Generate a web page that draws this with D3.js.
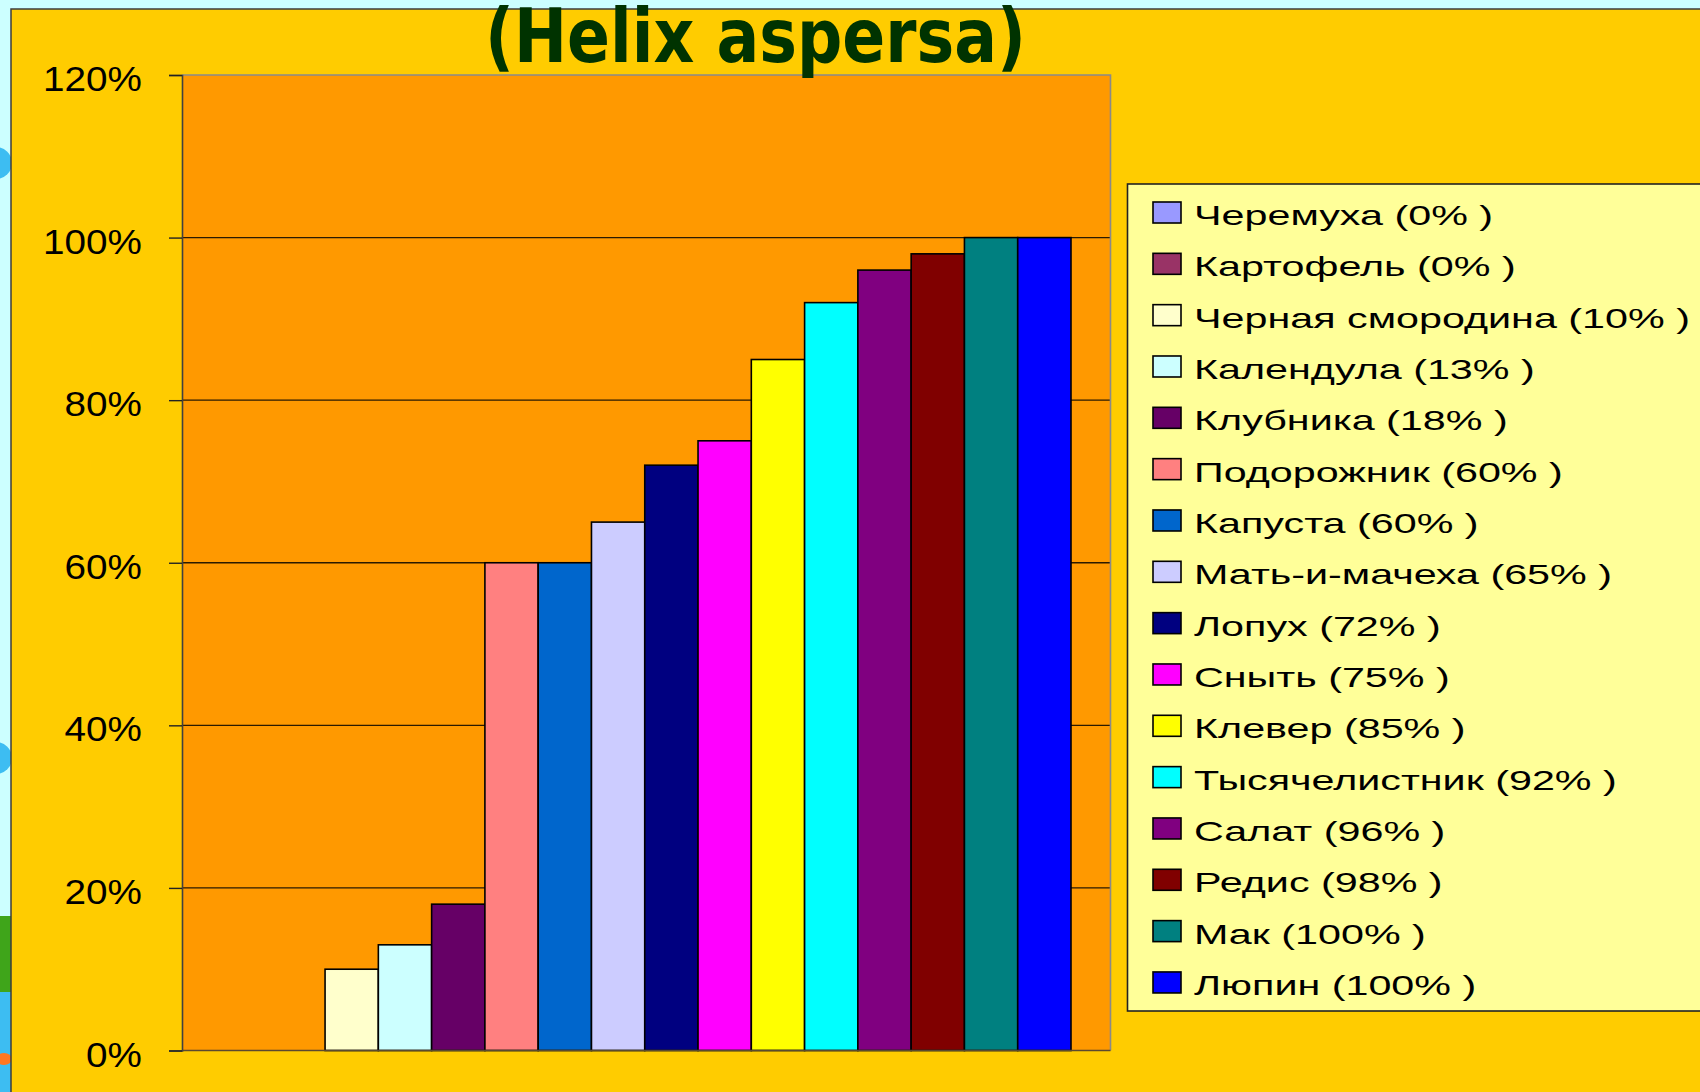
<!DOCTYPE html>
<html>
<head>
<meta charset="utf-8">
<script src="https://cdn.jsdelivr.net/npm/d3@7"></script>
<style>
  html, body { margin: 0; padding: 0; background: #CCFFFF; }
  svg { display: block; }
</style>
</head>
<body>
<svg id="chart" width="1700" height="1092"></svg>
<script>
// ---- data ----
const title = "(Helix aspersa)";
const seriesNames = ["Черемуха", "Картофель", "Черная смородина", "Календула", "Клубника",
  "Подорожник", "Капуста", "Мать-и-мачеха", "Лопух", "Сныть", "Клевер",
  "Тысячелистник", "Салат", "Редис", "Мак", "Люпин"];
const seriesValues = [0, 0, 0.10, 0.13, 0.18, 0.60, 0.60, 0.65, 0.72, 0.75, 0.85, 0.92, 0.96, 0.98, 1.00, 1.00];
const legendLabels = ["Черемуха (0% )", "Картофель (0% )", "Черная смородина (10% )", "Календула (13% )",
  "Клубника (18% )", "Подорожник (60% )", "Капуста (60% )", "Мать-и-мачеха (65% )", "Лопух (72% )",
  "Сныть (75% )", "Клевер (85% )", "Тысячелистник (92% )", "Салат (96% )", "Редис (98% )",
  "Мак (100% )", "Люпин (100% )"];
const seriesColors = ["#9999FF", "#993366", "#FFFFCC", "#CCFFFF", "#660066", "#FF8080", "#0066CC",
  "#CCCCFF", "#000080", "#FF00FF", "#FFFF00", "#00FFFF", "#800080", "#800000", "#008080", "#0000FF"];
const yTicks = [0, 0.2, 0.4, 0.6, 0.8, 1.0, 1.2];

// ---- layout ----
const W = 1700, H = 1092;
const plot = { left: 182, right: 1110.5, top: 75, bottom: 1050.5 };
const svg = d3.select("#chart");

// slide decorations on left strip
svg.append("circle").attr("cx", -4).attr("cy", 163).attr("r", 16).attr("fill", "#3DBDF2");
svg.append("circle").attr("cx", -4).attr("cy", 758).attr("r", 16).attr("fill", "#3DBDF2");
svg.append("rect").attr("x", 0).attr("y", 916).attr("width", 12).attr("height", 76).attr("fill", "#3FA51A");
svg.append("rect").attr("x", 0).attr("y", 992).attr("width", 12).attr("height", 100).attr("fill", "#3DBDF2");
svg.append("ellipse").attr("cx", 4).attr("cy", 1059).attr("rx", 8).attr("ry", 6).attr("fill", "#FF7722");

// yellow panel
svg.append("rect").attr("x", 11).attr("y", 9).attr("width", W).attr("height", H)
  .attr("fill", "#FFCC00").attr("stroke", "#3d3d3d").attr("stroke-width", 1.5);

// scales
const y = d3.scaleLinear().domain([0, 1.2]).range([plot.bottom, plot.top]);
const x = d3.scaleBand().domain(seriesNames).range([plot.left + 36.5, plot.right - 39.5]).padding(0);

// plot area
svg.append("rect").attr("x", plot.left).attr("y", plot.top)
  .attr("width", plot.right - plot.left).attr("height", plot.bottom - plot.top)
  .attr("fill", "#FF9900");

// gridlines
svg.append("g").selectAll("line").data(yTicks.filter(t => t > 0 && t < 1.2)).join("line")
  .attr("x1", plot.left).attr("x2", plot.right)
  .attr("y1", d => y(d)).attr("y2", d => y(d))
  .attr("stroke", "#2a1a00").attr("stroke-width", 1.4);

// bars
svg.append("g").selectAll("rect").data(seriesNames).join("rect")
  .attr("x", d => x(d))
  .attr("width", x.bandwidth())
  .attr("y", (d, i) => y(seriesValues[i]))
  .attr("height", (d, i) => y(0) - y(seriesValues[i]))
  .attr("fill", (d, i) => seriesColors[i])
  .attr("stroke", (d, i) => seriesValues[i] > 0 ? "#000" : "none")
  .attr("stroke-width", 1.6);

// plot border (top/right grey)
svg.append("path")
  .attr("d", `M${plot.left},${plot.top}H${plot.right}V${plot.bottom}`)
  .attr("fill", "none").attr("stroke", "#8a8a8a").attr("stroke-width", 1.6);
// bottom axis line
svg.append("line").attr("x1", plot.left).attr("x2", plot.right)
  .attr("y1", plot.bottom).attr("y2", plot.bottom)
  .attr("stroke", "#5a4a30").attr("stroke-width", 1.6);

// y axis
const yAxis = svg.append("g").attr("transform", `translate(${plot.left},0)`)
  .call(d3.axisLeft(y).tickValues(yTicks).tickFormat(d3.format(".0%")).tickSize(13).tickPadding(27));
yAxis.select(".domain").attr("stroke", "#404040").attr("stroke-width", 1.6);
yAxis.selectAll(".tick line").attr("stroke", "#222").attr("stroke-width", 1.4);
const yText = yAxis.selectAll(".tick text")
  .attr("font-family", "'Liberation Sans', Arial, sans-serif")
  .attr("font-size", 35).attr("fill", "#000");
let maxTick = 0;
yText.each(function() { maxTick = Math.max(maxTick, this.getComputedTextLength()); });
const ySx = 99 / maxTick;
yText.attr("x", 0).attr("dy", null).attr("y", 0)
  .attr("transform", `translate(-40,15.5) scale(${ySx},1)`);

// title
svg.append("text").text(title)
  .attr("x", 755.5).attr("y", 62)
  .attr("text-anchor", "middle")
  .attr("font-family", "'DejaVu Sans', sans-serif")
  .attr("font-weight", "bold")
  .attr("font-size", 75)
  .attr("fill", "#003300")
  .attr("textLength", 541).attr("lengthAdjust", "spacingAndGlyphs");

// legend
const legend = svg.append("g");
legend.append("rect").attr("x", 1127.5).attr("y", 184).attr("width", 600).attr("height", 827)
  .attr("fill", "#FFFF99").attr("stroke", "#222").attr("stroke-width", 1.6);
const rowH = 51.33, row0 = 212.5;
const items = legend.selectAll("g.item").data(legendLabels).join("g")
  .attr("class", "item")
  .attr("transform", (d, i) => `translate(1153,${row0 + i * rowH})`);
items.append("rect").attr("x", 0).attr("y", -10.5).attr("width", 28).attr("height", 21)
  .attr("fill", (d, i) => seriesColors[i]).attr("stroke", "#000").attr("stroke-width", 1.6);
const lt = items.append("text").text(d => d)
  .attr("font-family", "'Liberation Sans', Arial, sans-serif")
  .attr("font-size", 28).attr("fill", "#000");
let maxLeg = 0;
lt.each(function() { maxLeg = Math.max(maxLeg, this.getComputedTextLength()); });
const lSx = 496 / maxLeg;
lt.attr("transform", `translate(41,12.5) scale(${lSx},1)`);
</script>
</body>
</html>
